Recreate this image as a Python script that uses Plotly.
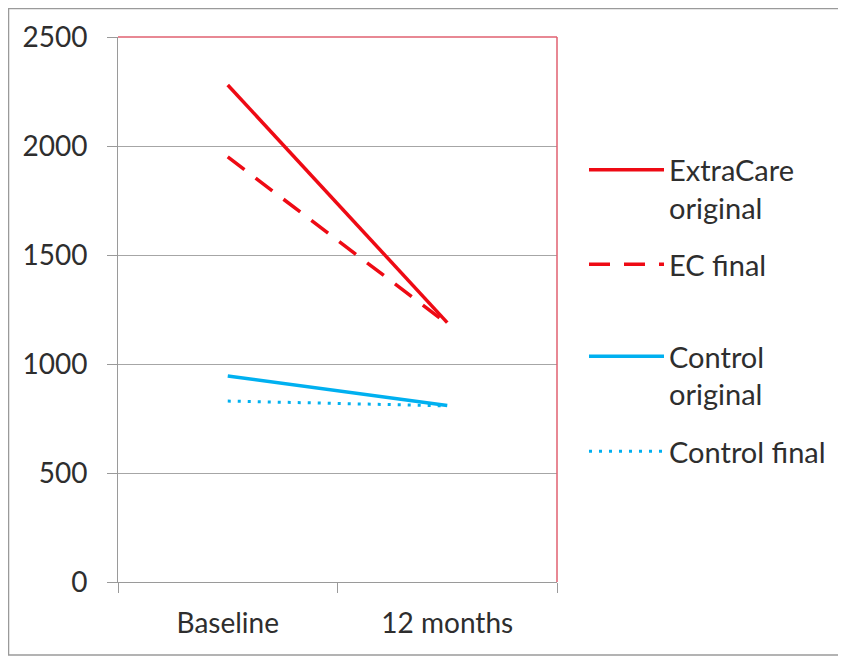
import plotly.graph_objects as go

categories = ["Baseline", "12 months"]
extracare_original = [2280, 1190]
ec_final = [1950, 1185]
control_original = [945, 810]
control_final = [830, 808]

series_names = ["ExtraCare<br>original", "EC final", "Control<br>original", "Control final"]

RED = "#ee0a14"
BLUE = "#00b0f0"
FONT = "Lato, 'Liberation Sans', sans-serif"
TXT = "#2e2e2e"
TICK_SIZE = 28
LEG_SIZE = 29

fig = go.Figure()
fig.add_trace(go.Scatter(x=categories, y=extracare_original, name=series_names[0], mode="lines",
                         line=dict(color=RED, width=3.5), legend="legend"))
fig.add_trace(go.Scatter(x=categories, y=ec_final, name=series_names[1], mode="lines",
                         line=dict(color=RED, width=3.5, dash="21px,14px"), legend="legend2"))
fig.add_trace(go.Scatter(x=categories, y=control_original, name=series_names[2], mode="lines",
                         line=dict(color=BLUE, width=3.5), legend="legend3"))
fig.add_trace(go.Scatter(x=categories, y=control_final, name=series_names[3], mode="lines",
                         line=dict(color=BLUE, width=3, dash="3px,7px"), legend="legend4"))

def leg(y):
    return dict(x=1.0615, y=y, xanchor="left", yanchor="top", valign="top",
                font=dict(family=FONT, size=LEG_SIZE, color=TXT), itemwidth=75,
                bgcolor="rgba(0,0,0,0)")

fig.update_layout(
    width=838, height=649,
    margin=dict(l=110, r=289, t=29, b=75),
    paper_bgcolor="white", plot_bgcolor="white",
    font=dict(family=FONT, size=TICK_SIZE, color=TXT),
    showlegend=True,
    legend=leg(0.803), legend2=leg(0.6294), legend3=leg(0.4606), legend4=leg(0.2862),
    xaxis=dict(type="category", range=[-0.5, 1.5], tickson="boundaries", ticks="outside",
               ticklen=10, tickcolor="#9a9a9a", showline=True, linecolor="#9a9a9a", linewidth=1,
               showgrid=False, tickfont=dict(family=FONT, size=TICK_SIZE, color=TXT),
               ticklabelstandoff=16),
    yaxis=dict(range=[0, 2500], dtick=500, ticks="outside", ticklen=10, tickcolor="#9a9a9a",
               showline=True, linecolor="#9a9a9a", linewidth=1, showgrid=True,
               gridcolor="#a6a6a6", gridwidth=1, zeroline=False,
               tickfont=dict(family=FONT, size=TICK_SIZE, color=TXT), ticklabelstandoff=14),
    shapes=[
        dict(type="line", xref="paper", yref="paper", x0=0, x1=1, y0=1, y1=1,
             line=dict(color="#e06070", width=1.5)),
        dict(type="line", xref="paper", yref="paper", x0=1, x1=1, y0=0, y1=1,
             line=dict(color="#e06070", width=1.5)),
        dict(type="rect", xref="paper", yref="paper", x0=-0.2494, x1=1.6515, y0=-0.134, y1=1.0523,
             line=dict(color="#9a9a9a", width=1.5)),
    ],
)

fig.write_html("out.html")
